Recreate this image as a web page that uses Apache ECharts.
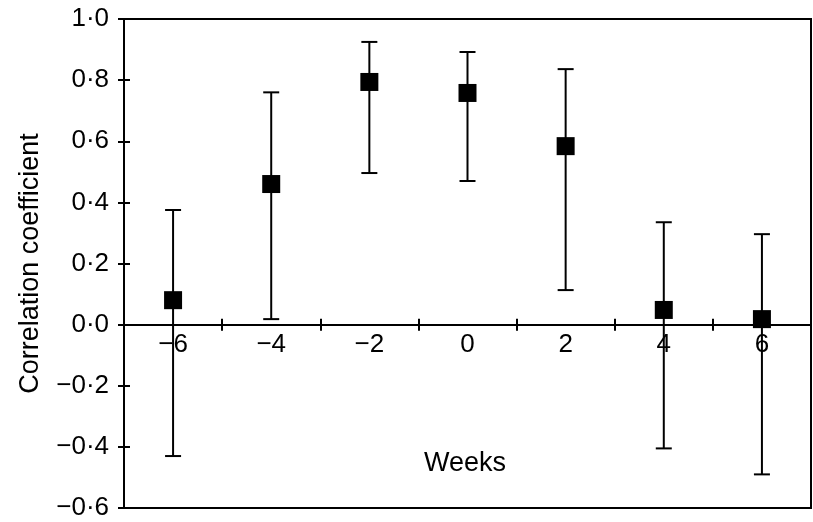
<!DOCTYPE html>
<html>
<head>
<meta charset="utf-8">
<style>
  html, body { margin: 0; padding: 0; background: #fff; }
  #chart { width: 813px; height: 522px; }
</style>
<script src="https://cdn.jsdelivr.net/npm/echarts@6/dist/echarts.min.js"></script>
</head>
<body>
<div id="chart"></div>
<script>
var weeks = ['\u22126', '\u22124', '\u22122', '0', '2', '4', '6'];
var coef = [0.08, 0.46, 0.794, 0.758, 0.584, 0.048, 0.018];
var upper = [0.375, 0.76, 0.925, 0.892, 0.836, 0.335, 0.296];
var lower = [-0.43, 0.018, 0.496, 0.47, 0.113, -0.405, -0.49];
var yMin = -0.6, yMax = 1.0, yStep = 0.2;

var font = '"Liberation Sans", Arial, Helvetica, sans-serif';

// grid box in px
var gTop = 19, gBottom = 14, gLeft = 124, gRight = 2;
var gHeight = 522 - gTop - gBottom;
// x axis sits on y = 0, so lift it from the grid bottom
var zeroLift = gHeight * (0 - yMin) / (yMax - yMin);

function fmtY(v) {
    var s = Math.abs(v).toFixed(1).replace('.', '\u00b7');
    return (v < -1e-9 ? '\u2212' : '') + s;
}

var errData = [];
for (var i = 0; i < weeks.length; i++) {
    errData.push([i, lower[i], upper[i]]);
}

var tickStyle = { color: '#000', width: 2 };

var yBase = {
    type: 'value', min: yMin, max: yMax, interval: yStep,
    splitLine: { show: false },
    axisLine: { show: true, lineStyle: { color: '#000', width: 2 } }
};

var option = {
    animation: false,
    backgroundColor: '#fff',
    grid: {
        left: gLeft, right: gRight, top: gTop, bottom: gBottom,
        show: true, borderColor: '#000', borderWidth: 2
    },
    xAxis: [
        {
            type: 'category', data: weeks, position: 'bottom', offset: -zeroLift,
            axisLine: { onZero: false, lineStyle: { color: '#000', width: 2 } },
            axisTick: { show: true, inside: false, length: 6, lineStyle: tickStyle },
            axisLabel: { color: '#000', fontSize: 26, fontFamily: font, margin: 7 }
        },
        {
            type: 'category', data: weeks, position: 'bottom', offset: -zeroLift,
            axisLine: { onZero: false, lineStyle: { color: '#000', width: 2 } },
            axisTick: { show: true, inside: true, length: 6, lineStyle: tickStyle },
            axisLabel: { show: false }
        }
    ],
    yAxis: [
        Object.assign({}, yBase, {
            position: 'left',
            name: 'Correlation coefficient',
            nameLocation: 'middle', nameGap: 80, nameRotate: 90,
            nameTextStyle: { color: '#000', fontSize: 27, fontFamily: font },
            axisTick: { show: true, inside: false, length: 6, lineStyle: tickStyle },
            axisLabel: { color: '#000', fontSize: 26, fontFamily: font, margin: 15, formatter: fmtY }
        }),
        Object.assign({}, yBase, {
            position: 'left', offset: 0,
            axisTick: { show: true, inside: true, length: 6, lineStyle: tickStyle },
            axisLabel: { show: false }
        })
    ],
    graphic: [{
        type: 'text', left: 424, top: 450,
        style: { text: 'Weeks', fill: '#000', font: '27px ' + font }
    }],
    series: [
        {
            type: 'custom',
            xAxisIndex: 0, yAxisIndex: 0,
            data: errData,
            renderItem: function (params, api) {
                var x = api.value(0);
                var lo = api.coord([x, api.value(1)]);
                var hi = api.coord([x, api.value(2)]);
                var hw = 8;
                var st = { stroke: '#000', lineWidth: 2 };
                return {
                    type: 'group',
                    children: [
                        { type: 'line', shape: { x1: hi[0], y1: hi[1], x2: lo[0], y2: lo[1] }, style: st },
                        { type: 'line', shape: { x1: hi[0] - hw, y1: hi[1], x2: hi[0] + hw, y2: hi[1] }, style: st },
                        { type: 'line', shape: { x1: lo[0] - hw, y1: lo[1], x2: lo[0] + hw, y2: lo[1] }, style: st }
                    ]
                };
            },
            z: 3
        },
        {
            type: 'scatter',
            xAxisIndex: 0, yAxisIndex: 0,
            data: coef,
            symbol: 'rect', symbolSize: 18,
            itemStyle: { color: '#000', opacity: 1 },
            z: 4
        }
    ]
};

var myChart = echarts.init(document.getElementById('chart'));
myChart.setOption(option);
</script>
</body>
</html>
